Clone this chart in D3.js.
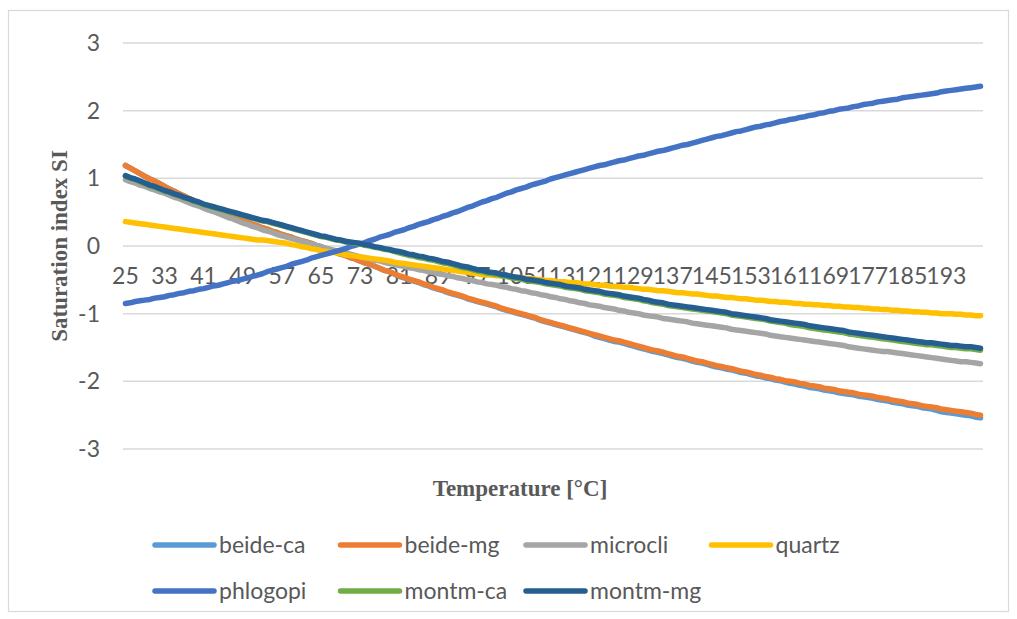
<!DOCTYPE html>
<html>
<head>
<meta charset="utf-8">
<script src="https://cdn.jsdelivr.net/npm/d3@7"></script>
<style>
  html, body { margin: 0; padding: 0; background: #ffffff; }
  svg { display: block; }
</style>
</head>
<body>
<svg id="chart" width="1017" height="619"></svg>
<script>
// Temperature categories, one per degree (°C)
const temperatures = d3.range(25, 201);
const yTicks = [-3, -2, -1, 0, 1, 2, 3];

// Saturation index per temperature, one value for each degree 25..200
const beideCa = [
  1.19, 1.15, 1.11, 1.07, 1.03, 0.99, 0.96, 0.92,
  0.88, 0.84, 0.81, 0.77, 0.74, 0.70, 0.67, 0.63,
  0.60, 0.57, 0.54, 0.51, 0.48, 0.46, 0.43, 0.40,
  0.37, 0.35, 0.32, 0.30, 0.27, 0.25, 0.22, 0.20,
  0.17, 0.15, 0.13, 0.10, 0.08, 0.06, 0.04, 0.01,
  -0.01, -0.04, -0.06, -0.09, -0.12, -0.14, -0.17, -0.19,
  -0.22, -0.25, -0.27, -0.30, -0.33, -0.36, -0.38, -0.41,
  -0.45, -0.47, -0.50, -0.52, -0.54, -0.57, -0.59, -0.62,
  -0.64, -0.66, -0.69, -0.71, -0.73, -0.75, -0.78, -0.80,
  -0.82, -0.84, -0.86, -0.88, -0.90, -0.93, -0.95, -0.97,
  -0.99, -1.01, -1.03, -1.05, -1.07, -1.10, -1.12, -1.14,
  -1.16, -1.18, -1.20, -1.22, -1.24, -1.26, -1.28, -1.30,
  -1.33, -1.35, -1.37, -1.39, -1.41, -1.42, -1.44, -1.46,
  -1.48, -1.50, -1.52, -1.54, -1.56, -1.57, -1.59, -1.61,
  -1.63, -1.65, -1.66, -1.68, -1.70, -1.72, -1.73, -1.75,
  -1.77, -1.79, -1.80, -1.82, -1.83, -1.85, -1.87, -1.88,
  -1.90, -1.92, -1.93, -1.95, -1.96, -1.98, -1.99, -2.01,
  -2.03, -2.04, -2.06, -2.07, -2.09, -2.10, -2.11, -2.13,
  -2.14, -2.15, -2.17, -2.18, -2.19, -2.20, -2.22, -2.23,
  -2.24, -2.25, -2.27, -2.28, -2.29, -2.31, -2.32, -2.33,
  -2.35, -2.36, -2.37, -2.39, -2.40, -2.41, -2.43, -2.45,
  -2.46, -2.47, -2.48, -2.49, -2.50, -2.51, -2.53, -2.54
];

const beideMg = [
  1.19, 1.15, 1.11, 1.07, 1.03, 0.99, 0.96, 0.92,
  0.88, 0.84, 0.81, 0.77, 0.74, 0.70, 0.67, 0.63,
  0.60, 0.57, 0.54, 0.51, 0.48, 0.46, 0.43, 0.40,
  0.37, 0.35, 0.32, 0.30, 0.27, 0.25, 0.22, 0.20,
  0.17, 0.15, 0.13, 0.10, 0.08, 0.06, 0.04, 0.01,
  -0.01, -0.04, -0.06, -0.09, -0.12, -0.14, -0.17, -0.19,
  -0.22, -0.25, -0.27, -0.30, -0.33, -0.36, -0.38, -0.41,
  -0.44, -0.46, -0.49, -0.51, -0.53, -0.56, -0.58, -0.61,
  -0.63, -0.65, -0.68, -0.70, -0.72, -0.74, -0.77, -0.79,
  -0.81, -0.83, -0.85, -0.87, -0.89, -0.92, -0.94, -0.96,
  -0.98, -1.00, -1.02, -1.04, -1.06, -1.09, -1.11, -1.13,
  -1.15, -1.17, -1.19, -1.21, -1.23, -1.25, -1.27, -1.29,
  -1.31, -1.33, -1.35, -1.37, -1.39, -1.40, -1.42, -1.44,
  -1.46, -1.48, -1.50, -1.52, -1.54, -1.55, -1.57, -1.59,
  -1.61, -1.63, -1.64, -1.66, -1.68, -1.70, -1.71, -1.73,
  -1.75, -1.77, -1.78, -1.80, -1.81, -1.83, -1.85, -1.86,
  -1.88, -1.90, -1.91, -1.93, -1.94, -1.96, -1.97, -1.99,
  -2.00, -2.01, -2.03, -2.04, -2.06, -2.07, -2.08, -2.10,
  -2.11, -2.12, -2.14, -2.15, -2.16, -2.17, -2.19, -2.20,
  -2.21, -2.22, -2.24, -2.25, -2.26, -2.28, -2.29, -2.30,
  -2.32, -2.33, -2.34, -2.36, -2.37, -2.38, -2.39, -2.41,
  -2.42, -2.43, -2.44, -2.45, -2.46, -2.47, -2.49, -2.50
];

const microcli = [
  0.98, 0.95, 0.93, 0.90, 0.88, 0.85, 0.83, 0.80,
  0.78, 0.75, 0.72, 0.70, 0.67, 0.64, 0.61, 0.59,
  0.56, 0.53, 0.51, 0.48, 0.45, 0.42, 0.40, 0.37,
  0.34, 0.32, 0.29, 0.27, 0.24, 0.22, 0.20, 0.17,
  0.15, 0.13, 0.11, 0.09, 0.07, 0.05, 0.03, 0.01,
  -0.01, -0.03, -0.05, -0.07, -0.09, -0.10, -0.12, -0.14,
  -0.16, -0.18, -0.19, -0.21, -0.22, -0.24, -0.26, -0.27,
  -0.29, -0.30, -0.32, -0.33, -0.35, -0.36, -0.38, -0.39,
  -0.41, -0.42, -0.44, -0.45, -0.47, -0.48, -0.50, -0.51,
  -0.53, -0.54, -0.56, -0.57, -0.58, -0.60, -0.61, -0.63,
  -0.64, -0.66, -0.67, -0.69, -0.70, -0.72, -0.73, -0.75,
  -0.76, -0.78, -0.79, -0.81, -0.82, -0.84, -0.85, -0.87,
  -0.88, -0.89, -0.91, -0.92, -0.93, -0.95, -0.96, -0.98,
  -0.99, -1.00, -1.02, -1.03, -1.04, -1.05, -1.07, -1.08,
  -1.09, -1.10, -1.11, -1.12, -1.14, -1.15, -1.16, -1.17,
  -1.18, -1.19, -1.20, -1.21, -1.23, -1.24, -1.25, -1.26,
  -1.27, -1.28, -1.29, -1.30, -1.32, -1.33, -1.34, -1.35,
  -1.36, -1.37, -1.38, -1.39, -1.40, -1.41, -1.42, -1.43,
  -1.44, -1.45, -1.46, -1.47, -1.49, -1.50, -1.51, -1.52,
  -1.53, -1.54, -1.55, -1.56, -1.56, -1.57, -1.58, -1.59,
  -1.60, -1.61, -1.62, -1.63, -1.64, -1.65, -1.66, -1.67,
  -1.68, -1.69, -1.70, -1.71, -1.71, -1.72, -1.73, -1.74
];

const quartz = [
  0.36, 0.35, 0.34, 0.33, 0.32, 0.31, 0.30, 0.29,
  0.28, 0.27, 0.26, 0.25, 0.24, 0.23, 0.22, 0.21,
  0.20, 0.19, 0.18, 0.17, 0.16, 0.15, 0.14, 0.13,
  0.12, 0.11, 0.10, 0.09, 0.09, 0.08, 0.07, 0.06,
  0.05, 0.04, 0.02, 0.01, -0.01, -0.02, -0.04, -0.05,
  -0.07, -0.08, -0.09, -0.10, -0.11, -0.13, -0.14, -0.15,
  -0.16, -0.17, -0.18, -0.19, -0.20, -0.21, -0.22, -0.24,
  -0.25, -0.26, -0.27, -0.28, -0.29, -0.30, -0.31, -0.32,
  -0.33, -0.34, -0.35, -0.36, -0.37, -0.38, -0.39, -0.40,
  -0.41, -0.42, -0.43, -0.43, -0.44, -0.44, -0.45, -0.46,
  -0.46, -0.47, -0.48, -0.48, -0.49, -0.50, -0.51, -0.51,
  -0.52, -0.53, -0.53, -0.54, -0.54, -0.55, -0.56, -0.56,
  -0.57, -0.58, -0.58, -0.59, -0.60, -0.60, -0.61, -0.61,
  -0.62, -0.63, -0.64, -0.64, -0.65, -0.66, -0.66, -0.67,
  -0.68, -0.69, -0.69, -0.70, -0.71, -0.71, -0.72, -0.73,
  -0.74, -0.74, -0.75, -0.76, -0.76, -0.77, -0.78, -0.78,
  -0.79, -0.80, -0.80, -0.81, -0.82, -0.82, -0.83, -0.83,
  -0.84, -0.85, -0.85, -0.86, -0.86, -0.87, -0.87, -0.88,
  -0.88, -0.89, -0.89, -0.90, -0.90, -0.91, -0.91, -0.92,
  -0.92, -0.93, -0.93, -0.94, -0.94, -0.95, -0.95, -0.96,
  -0.96, -0.97, -0.97, -0.98, -0.98, -0.99, -0.99, -1.00,
  -1.00, -1.00, -1.01, -1.01, -1.02, -1.02, -1.03, -1.03
];

const phlogopi = [
  -0.85, -0.84, -0.82, -0.81, -0.80, -0.79, -0.77, -0.76,
  -0.75, -0.73, -0.72, -0.70, -0.69, -0.67, -0.66, -0.64,
  -0.63, -0.61, -0.59, -0.58, -0.56, -0.54, -0.52, -0.51,
  -0.49, -0.47, -0.45, -0.43, -0.41, -0.38, -0.36, -0.34,
  -0.32, -0.30, -0.27, -0.25, -0.23, -0.21, -0.18, -0.16,
  -0.14, -0.12, -0.10, -0.08, -0.06, -0.04, -0.01, 0.01,
  0.03, 0.05, 0.08, 0.10, 0.13, 0.15, 0.17, 0.20,
  0.22, 0.24, 0.27, 0.29, 0.32, 0.34, 0.36, 0.39,
  0.41, 0.44, 0.46, 0.49, 0.51, 0.54, 0.57, 0.59,
  0.62, 0.65, 0.67, 0.70, 0.72, 0.75, 0.78, 0.80,
  0.83, 0.85, 0.87, 0.90, 0.92, 0.94, 0.96, 0.99,
  1.01, 1.03, 1.05, 1.07, 1.09, 1.11, 1.13, 1.15,
  1.17, 1.19, 1.20, 1.22, 1.24, 1.26, 1.27, 1.29,
  1.31, 1.33, 1.34, 1.36, 1.38, 1.40, 1.41, 1.43,
  1.45, 1.47, 1.49, 1.50, 1.52, 1.54, 1.56, 1.58,
  1.60, 1.62, 1.63, 1.65, 1.67, 1.69, 1.70, 1.72,
  1.74, 1.76, 1.77, 1.79, 1.80, 1.82, 1.84, 1.85,
  1.87, 1.88, 1.90, 1.91, 1.93, 1.94, 1.96, 1.97,
  1.99, 2.00, 2.02, 2.03, 2.04, 2.06, 2.07, 2.09,
  2.10, 2.11, 2.13, 2.14, 2.15, 2.16, 2.17, 2.19,
  2.20, 2.21, 2.22, 2.23, 2.24, 2.25, 2.26, 2.28,
  2.29, 2.30, 2.31, 2.32, 2.33, 2.34, 2.35, 2.36
];

const montmCa = [
  1.03, 1.00, 0.98, 0.95, 0.92, 0.89, 0.87, 0.84,
  0.81, 0.79, 0.76, 0.74, 0.71, 0.69, 0.66, 0.64,
  0.61, 0.59, 0.57, 0.55, 0.53, 0.51, 0.49, 0.47,
  0.45, 0.43, 0.41, 0.39, 0.37, 0.36, 0.34, 0.32,
  0.30, 0.28, 0.26, 0.24, 0.22, 0.20, 0.18, 0.16,
  0.14, 0.13, 0.11, 0.09, 0.08, 0.06, 0.05, 0.04,
  0.03, 0.01, 0.00, -0.02, -0.03, -0.05, -0.06, -0.08,
  -0.10, -0.12, -0.14, -0.15, -0.17, -0.18, -0.20, -0.21,
  -0.23, -0.25, -0.26, -0.28, -0.30, -0.32, -0.33, -0.35,
  -0.37, -0.38, -0.40, -0.41, -0.42, -0.44, -0.45, -0.47,
  -0.48, -0.49, -0.51, -0.52, -0.53, -0.54, -0.56, -0.57,
  -0.58, -0.59, -0.61, -0.62, -0.63, -0.64, -0.66, -0.67,
  -0.68, -0.69, -0.71, -0.72, -0.73, -0.74, -0.76, -0.77,
  -0.78, -0.79, -0.81, -0.82, -0.84, -0.85, -0.86, -0.88,
  -0.89, -0.90, -0.91, -0.92, -0.93, -0.94, -0.95, -0.96,
  -0.97, -0.98, -0.99, -1.00, -1.02, -1.03, -1.04, -1.05,
  -1.06, -1.07, -1.08, -1.09, -1.11, -1.12, -1.13, -1.14,
  -1.16, -1.17, -1.18, -1.19, -1.21, -1.22, -1.23, -1.24,
  -1.25, -1.26, -1.27, -1.28, -1.30, -1.31, -1.32, -1.33,
  -1.34, -1.35, -1.36, -1.37, -1.38, -1.39, -1.40, -1.41,
  -1.42, -1.43, -1.44, -1.45, -1.46, -1.46, -1.47, -1.48,
  -1.49, -1.50, -1.50, -1.51, -1.52, -1.52, -1.53, -1.54
];

const montmMg = [
  1.04, 1.01, 0.99, 0.96, 0.93, 0.90, 0.88, 0.85,
  0.82, 0.80, 0.77, 0.75, 0.72, 0.70, 0.67, 0.65,
  0.62, 0.60, 0.58, 0.56, 0.54, 0.52, 0.50, 0.48,
  0.46, 0.44, 0.42, 0.40, 0.38, 0.37, 0.35, 0.33,
  0.31, 0.29, 0.27, 0.25, 0.23, 0.21, 0.19, 0.17,
  0.15, 0.14, 0.12, 0.10, 0.09, 0.07, 0.06, 0.05,
  0.04, 0.02, 0.01, -0.01, -0.02, -0.04, -0.05, -0.07,
  -0.08, -0.10, -0.12, -0.13, -0.15, -0.16, -0.18, -0.19,
  -0.21, -0.23, -0.24, -0.26, -0.28, -0.30, -0.31, -0.33,
  -0.35, -0.36, -0.38, -0.39, -0.40, -0.42, -0.43, -0.45,
  -0.46, -0.47, -0.49, -0.50, -0.51, -0.52, -0.54, -0.55,
  -0.56, -0.57, -0.59, -0.60, -0.61, -0.62, -0.64, -0.65,
  -0.66, -0.67, -0.69, -0.70, -0.71, -0.72, -0.74, -0.75,
  -0.76, -0.77, -0.79, -0.80, -0.82, -0.83, -0.84, -0.86,
  -0.87, -0.88, -0.89, -0.90, -0.91, -0.92, -0.93, -0.94,
  -0.95, -0.96, -0.97, -0.98, -1.00, -1.01, -1.02, -1.03,
  -1.04, -1.05, -1.06, -1.07, -1.09, -1.10, -1.11, -1.12,
  -1.13, -1.14, -1.15, -1.16, -1.18, -1.19, -1.20, -1.21,
  -1.22, -1.23, -1.24, -1.25, -1.27, -1.28, -1.29, -1.30,
  -1.31, -1.32, -1.33, -1.34, -1.35, -1.36, -1.37, -1.38,
  -1.39, -1.40, -1.41, -1.42, -1.43, -1.43, -1.44, -1.45,
  -1.46, -1.47, -1.47, -1.48, -1.49, -1.49, -1.50, -1.51
];

const seriesNames = ["beide-ca", "beide-mg", "microcli", "quartz", "phlogopi", "montm-ca", "montm-mg"];
const seriesValues = [beideCa, beideMg, microcli, quartz, phlogopi, montmCa, montmMg];
const seriesColors = ["#5B9BD5", "#ED7D31", "#A5A5A5", "#FFC000", "#4472C4", "#70AD47", "#255E91"];

const series = seriesNames.map((name, i) => ({
  name,
  color: seriesColors[i],
  points: temperatures.map((t, j) => ({ t, v: seriesValues[i][j] }))
}));

const svg = d3.select("#chart");
const labelFont = "Lato, 'Liberation Sans', sans-serif";
const titleFont = "'Liberation Serif', 'DejaVu Serif', serif";
const textColor = "#595959";
const gridColor = "#d9d9d9";

// chart frame
svg.append("rect")
  .attr("x", 8.5).attr("y", 10.5)
  .attr("width", 1000).attr("height", 601)
  .attr("fill", "#ffffff")
  .attr("stroke", gridColor).attr("stroke-width", 1.2);

const plot = { left: 123, right: 983, top: 43, bottom: 449 };

const x = d3.scaleBand().domain(temperatures).range([plot.left, plot.right]).paddingInner(0).paddingOuter(0);
const xc = t => x(t) + x.bandwidth() / 2;
const y = d3.scaleLinear().domain([-3, 3]).range([plot.bottom, plot.top]);

// horizontal gridlines
svg.append("g").selectAll("line")
  .data(yTicks).join("line")
  .attr("x1", plot.left).attr("x2", plot.right)
  .attr("y1", d => y(d)).attr("y2", d => y(d))
  .attr("stroke", gridColor).attr("stroke-width", 1.5);

// value axis labels
const yAxis = d3.axisLeft(y).tickValues(yTicks).tickSize(0).tickPadding(0).tickFormat(d3.format("d"));
const yg = svg.append("g").attr("transform", `translate(${plot.left - 23},0)`).call(yAxis);
yg.select(".domain").remove();
yg.selectAll("text")
  .attr("font-family", labelFont).attr("font-size", 23).attr("fill", textColor)
  .text(d => d < 0 ? "-" + Math.abs(d) : d);

// category axis labels, every 8th temperature, sitting at the zero line
const xTickValues = temperatures.filter((t, i) => i % 8 === 0);
const xAxis = d3.axisBottom(x).tickValues(xTickValues).tickSize(0).tickPadding(0);
const xg = svg.append("g").attr("transform", `translate(0,${y(0) + 22})`).call(xAxis);
xg.select(".domain").remove();
xg.selectAll("text")
  .attr("font-family", labelFont).attr("font-size", 23).attr("fill", textColor)
  .attr("dy", "0.71em").attr("y", 0);

// series lines
const line = d3.line().x(d => xc(d.t)).y(d => y(d.v));
svg.append("g").selectAll("path")
  .data(series).join("path")
  .attr("d", d => line(d.points))
  .attr("fill", "none")
  .attr("stroke", d => d.color)
  .attr("stroke-width", 5.5)
  .attr("stroke-linejoin", "round")
  .attr("stroke-linecap", "round");

// axis titles
svg.append("text")
  .attr("transform", `translate(67,${(plot.top + plot.bottom) / 2}) rotate(-90)`)
  .attr("text-anchor", "middle")
  .attr("font-family", titleFont).attr("font-weight", "bold")
  .attr("font-size", 23).attr("fill", textColor)
  .text("Saturation index SI");

svg.append("text")
  .attr("x", 520).attr("y", 496)
  .attr("text-anchor", "middle")
  .attr("font-family", titleFont).attr("font-weight", "bold")
  .attr("font-size", 23).attr("fill", textColor)
  .text("Temperature [°C]");

// legend: four columns, two rows
const legendCols = 4, colWidth = 185.5, legendX = 155, rowY = [545, 591];
const legend = svg.append("g").selectAll("g")
  .data(series).join("g")
  .attr("transform", (d, i) => `translate(${legendX + (i % legendCols) * colWidth},${rowY[Math.floor(i / legendCols)]})`);
legend.append("line")
  .attr("x1", 0).attr("x2", 59).attr("y1", 0).attr("y2", 0)
  .attr("stroke", d => d.color).attr("stroke-width", 5.5).attr("stroke-linecap", "round");
legend.append("text")
  .attr("x", 64).attr("y", 0).attr("dy", "0.35em")
  .attr("font-family", labelFont).attr("font-size", 23).attr("fill", textColor)
  .text(d => d.name);
</script>
</body>
</html>
